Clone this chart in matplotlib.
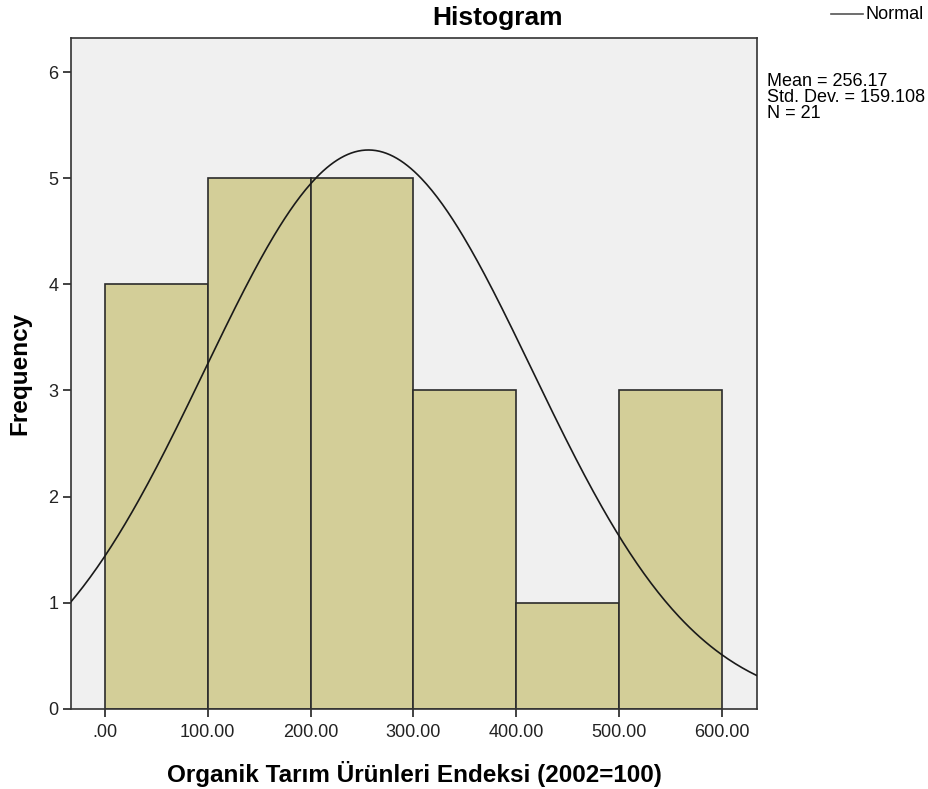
import numpy as np
import matplotlib.pyplot as plt

# Histogram data
bin_edges = [0, 100, 200, 300, 400, 500, 600]
counts = [4, 5, 5, 3, 1, 3]
mean = 256.17
std = 159.108
n = 21

x_ticks = [0, 100, 200, 300, 400, 500, 600]
x_tick_labels = [".00", "100.00", "200.00", "300.00", "400.00", "500.00", "600.00"]
y_ticks = [0, 1, 2, 3, 4, 5, 6]

plt.rcParams['font.family'] = ['Liberation Sans', 'DejaVu Sans']

fig = plt.figure(figsize=(9.29, 7.89), dpi=100)
ax = fig.add_axes([0.0764, 0.1014, 0.7385, 0.8504])
ax.set_facecolor('#f0f0f0')

widths = np.diff(bin_edges)
ax.bar(bin_edges[:-1], counts, width=widths, align='edge',
       color='#d3ce98', edgecolor='#2b2b2b', linewidth=1.2, zorder=2)

# Normal curve scaled to frequency
xs = np.linspace(-40, 640, 400)
ys = n * 100 * np.exp(-0.5 * ((xs - mean) / std) ** 2) / (std * np.sqrt(2 * np.pi))
ax.plot(xs, ys, color='#1a1a1a', linewidth=1.2, zorder=3)

ax.set_xlim(-33, 634)
ax.set_ylim(0, 6.32)
ax.set_xticks(x_ticks)
ax.set_xticklabels(x_tick_labels)
ax.set_yticks(y_ticks)
ax.tick_params(axis='both', direction='out', length=6, width=1.2, labelsize=13, colors='#222222')
ax.tick_params(axis='x', pad=5)
ax.tick_params(axis='y', pad=3)
for s in ax.spines.values():
    s.set_linewidth(1.2)
    s.set_color('#333333')

fig.text(0.536, 0.977, "Histogram", fontsize=19, fontweight='bold', ha='center', va='center')
ax.set_xlabel("Organik Tarım Ürünleri Endeksi (2002=100)", fontsize=17.5, fontweight='bold', labelpad=14)
ax.set_ylabel("Frequency", fontsize=17.5, fontweight='bold', labelpad=12)

# Legend and statistics box
fig.text(0.932, 0.982, "Normal", fontsize=13, va='center', ha='left')
fig.add_artist(plt.Line2D([0.894, 0.929], [0.982, 0.982], color='#555555', linewidth=1.2))
fig.text(0.826, 0.907, "Mean = 256.17\nStd. Dev. = 159.108\nN = 21",
         fontsize=13, va='top', ha='left', linespacing=0.9)

fig.savefig("out.png", dpi=100)
